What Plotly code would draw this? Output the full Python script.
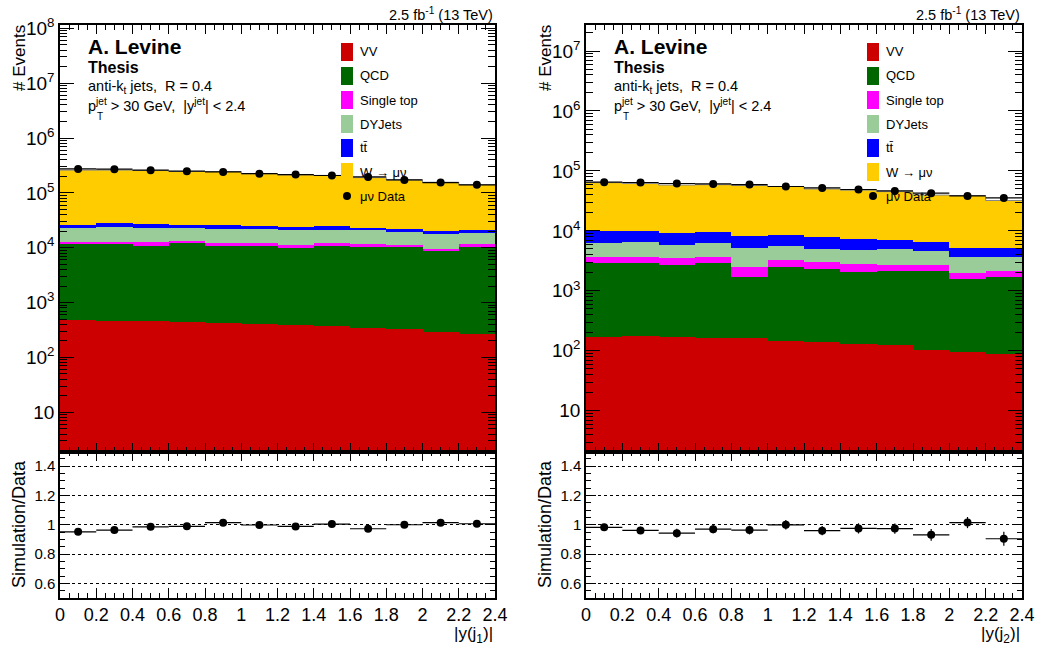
import plotly.graph_objects as go

W, H = 1042, 650
FONT = "Liberation Sans, Arial, Helvetica, sans-serif"

# ---------------- data ----------------
bin_edges = [0.0, 0.2, 0.4, 0.6, 0.8, 1.0, 1.2, 1.4, 1.6, 1.8, 2.0, 2.2, 2.4]
x_tick_vals = [0, 0.2, 0.4, 0.6, 0.8, 1, 1.2, 1.4, 1.6, 1.8, 2, 2.2, 2.4]
x_tick_text = ["0", "0.2", "0.4", "0.6", "0.8", "1", "1.2", "1.4", "1.6", "1.8", "2", "2.2", "2.4"]

names = ["VV", "QCD", "Single top", "DYJets", "t\u0074\u0304", "W \u2192 \u03bc\u03bd"]
data_name = "\u03bc\u03bd Data"
colors = ["#CC0000", "#006600", "#FF00FF", "#99CC99", "#0000FF", "#FFCC00"]

# leading jet |y(j1)|
vv_j1 = [478, 471, 465, 445, 427, 409, 392, 371, 351, 323, 293, 266]
qcd_j1 = [11000, 11200, 10500, 11600, 10200, 10200, 9300, 10500, 10000, 10000, 8400, 10100]
stop_j1 = [1500, 1300, 1500, 1200, 1400, 1400, 1300, 1300, 1400, 1000, 900, 1100]
dy_j1 = [10100, 11100, 10300, 9900, 10100, 9500, 9900, 9300, 9100, 8500, 8100, 7800]
tt_j1 = [3100, 3600, 3800, 3100, 3400, 2900, 2500, 2900, 2500, 1700, 2100, 1600]
wmunu_j1 = [233700, 232600, 228800, 219100, 218900, 199200, 189200, 183600, 166300, 150500, 136400, 120100]
data_j1 = [273000, 270000, 259000, 248000, 241000, 224000, 215000, 207000, 195000, 172000, 154000, 140000]
ratio_err_j1 = [0.008, 0.008, 0.008, 0.008, 0.008, 0.008, 0.008, 0.009, 0.009, 0.009, 0.01, 0.01]

# second jet |y(j2)|
vv_j2 = [167, 176, 167, 165, 163, 143, 139, 131, 124, 105, 96, 90]
qcd_j2 = [2720, 2750, 2510, 2720, 1570, 2340, 2190, 1970, 2030, 2020, 1460, 1600]
stop_j2 = [840, 800, 820, 800, 780, 760, 640, 650, 530, 550, 460, 440]
dy_j2 = [2500, 2900, 2340, 2620, 2630, 2310, 2110, 2010, 2270, 1960, 1710, 1560]
tt_j2 = [3800, 3400, 3300, 3200, 3000, 2900, 2700, 2500, 2000, 1800, 1500, 1500]
wmunu_j2 = [53730, 51600, 49030, 49380, 49020, 46530, 42220, 40520, 38250, 33140, 33640, 26920]
data_j2 = [64900, 64100, 61700, 60700, 59300, 55000, 52100, 49000, 46400, 42500, 38300, 35500]
ratio_err_j2 = [0.025, 0.025, 0.03, 0.028, 0.03, 0.032, 0.032, 0.035, 0.035, 0.04, 0.038, 0.048]

log_labels_j1 = ["10", "10<sup>2</sup>", "10<sup>3</sup>", "10<sup>4</sup>", "10<sup>5</sup>",
                 "10<sup>6</sup>", "10<sup>7</sup>", "10<sup>8</sup>"]
log_labels_j2 = log_labels_j1[:7]
ratio_tick_vals = [0.6, 0.8, 1.0, 1.2, 1.4]
ratio_tick_text = ["0.6", "0.8", "1", "1.2", "1.4"]

x_titles = ["|y(j<sub>1</sub>)|", "|y(j<sub>2</sub>)|"]
lumi_text = "2.5 fb<sup>-1</sup> (13 TeV)"

# ---------------- helpers ----------------
centers = [(bin_edges[i] + bin_edges[i + 1]) / 2 for i in range(len(bin_edges) - 1)]
half_w = [(bin_edges[i + 1] - bin_edges[i]) / 2 for i in range(len(bin_edges) - 1)]
widths = [2 * h for h in half_w]


def px(x):
    return x / W


def py(y):
    return 1 - y / H


fig = go.Figure()

panels = [
    dict(stack=[vv_j1, qcd_j1, stop_j1, dy_j1, tt_j1, wmunu_j1], data=data_j1, err=ratio_err_j1,
         xm="x", ym="y", xr="x2", yr="y2", labels=log_labels_j1, ndec=8),
    dict(stack=[vv_j2, qcd_j2, stop_j2, dy_j2, tt_j2, wmunu_j2], data=data_j2, err=ratio_err_j2,
         xm="x3", ym="y3", xr="x4", yr="y4", labels=log_labels_j2, ndec=7),
]

for p in panels:
    for comp, nm, col in zip(p["stack"], names, colors):
        fig.add_trace(go.Bar(x=centers, y=comp, width=widths, name=nm,
                             marker=dict(color=col, line=dict(width=0)),
                             xaxis=p["xm"], yaxis=p["ym"], showlegend=False))
    total = [sum(v) for v in zip(*p["stack"])]
    # thin outline on top of the simulation stack
    fig.add_trace(go.Scatter(x=bin_edges, y=total + [total[-1]], mode="lines", line_shape="hv",
                             line=dict(color="#888888", width=1), name="Simulation",
                             xaxis=p["xm"], yaxis=p["ym"], showlegend=False, hoverinfo="skip"))
    fig.add_trace(go.Scatter(x=centers, y=p["data"], mode="markers", name=data_name,
                             marker=dict(color="black", size=8),
                             error_x=dict(type="data", array=half_w, width=0, thickness=1.2, color="black"),
                             xaxis=p["xm"], yaxis=p["ym"], showlegend=False))
    ratio = [t / d for t, d in zip(total, p["data"])]
    fig.add_trace(go.Scatter(x=centers, y=ratio, mode="markers", name="Simulation/Data",
                             marker=dict(color="black", size=8),
                             error_x=dict(type="data", array=half_w, width=0, thickness=1.2, color="black"),
                             error_y=dict(type="data", array=p["err"], width=0, thickness=1.2, color="black"),
                             xaxis=p["xr"], yaxis=p["yr"], showlegend=False))

# ---------------- axes ----------------
main_bottom, main_top = 451.5, 25
rat_bottom = 598
doms_x = [[px(60), px(495)], [px(586), px(1022)]]
main_dom_y = [py(main_bottom), py(main_top)]
rat_dom_y = [py(rat_bottom), py(main_bottom)]
y_ranges = [[0.285, 8.06], [0.32, 7.434]]

common = dict(showline=True, linecolor="black", linewidth=1.5, mirror="allticks", automargin=False,
              ticks="inside", tickcolor="black", tickwidth=1, zeroline=False, showgrid=False)

minor_log = []
for d in range(0, 9):
    for m in range(2, 10):
        minor_log.append(m * 10 ** d)

layout_axes = {}
axis_ids = [("xaxis", "yaxis", "xaxis2", "yaxis2"), ("xaxis3", "yaxis3", "xaxis4", "yaxis4")]
for i, p in enumerate(panels):
    xm, ym, xr, yr = axis_ids[i]
    major_log = [10 ** k for k in range(1, p["ndec"] + 1)]
    layout_axes[xm] = dict(common, domain=doms_x[i], anchor=p["ym"],
                           range=[0, 2.4], tickmode="array", tickvals=x_tick_vals, ticklen=9,
                           showticklabels=False,
                           minor=dict(ticks="inside", dtick=0.05, ticklen=5, tickcolor="black"))
    layout_axes[ym] = dict(common, domain=main_dom_y, anchor=p["xm"], type="log", range=y_ranges[i],
                           tickmode="array", tickvals=major_log, ticktext=p["labels"], ticklen=14,
                           tickfont=dict(family=FONT, size=19, color="black"),
                           minor=dict(ticks="inside", tickmode="array", tickvals=minor_log,
                                      ticklen=7, tickcolor="black"))
    layout_axes[xr] = dict(common, domain=doms_x[i], anchor=p["yr"], range=[0, 2.4],
                           tickmode="array", tickvals=x_tick_vals, ticktext=x_tick_text, ticklen=10,
                           tickfont=dict(family=FONT, size=18, color="black"),
                           minor=dict(ticks="inside", dtick=0.05, ticklen=5, tickcolor="black"))
    layout_axes[yr] = dict(common, domain=rat_dom_y, anchor=p["xr"], range=[0.5, 1.5],
                           tickmode="array", tickvals=ratio_tick_vals, ticktext=ratio_tick_text,
                           ticklen=10, showgrid=True, gridcolor="black", griddash="dot", gridwidth=1,
                           tickfont=dict(family=FONT, size=15, color="black"),
                           minor=dict(ticks="inside", dtick=0.05, ticklen=5, tickcolor="black"))

# ---------------- annotations & legend ----------------
ann = []
shapes = []


def text(x, y, s, size, xanchor="left", yanchor="middle", bold=False, angle=0):
    if bold:
        s = "<b>" + s + "</b>"
    ann.append(dict(x=px(x), y=py(y), xref="paper", yref="paper", text=s, showarrow=False,
                    xanchor=xanchor, yanchor=yanchor, textangle=angle,
                    font=dict(family=FONT, size=size, color="black")))


frame_left = [60, 586]
frame_right = [495, 1022]
leg_box_x = [341, 867]
leg_row_y = [52, 76, 100, 124, 148, 172]
data_row_y = 196

for i in range(2):
    L = frame_left[i]
    R = frame_right[i]
    text(R, 14, lumi_text, 14.5, xanchor="right")
    text(L + 26, 47, "A. Levine", 21, bold=True)
    text(L + 26, 67, "Thesis", 16, bold=True)
    text(L + 26, 87, "anti-k<sub>t</sub> jets,  R = 0.4", 14.5)
    text(L + 26, 105, "p<sup>jet</sup> > 30 GeV,  |y<sup>jet</sup>| < 2.4", 14.5)
    text(L + 34.5, 117, "T", 10)
    text(L - 40, 23, "# Events", 17, xanchor="center", yanchor="top", angle=-90)
    text(L - 41, 524, "Simulation/Data", 18, xanchor="center", angle=-90)
    text(R, 635, x_titles[i], 17, xanchor="right")
    bx = leg_box_x[i]
    for nm, col, yy in zip(names, colors, leg_row_y):
        shapes.append(dict(type="rect", xref="paper", yref="paper",
                           x0=px(bx), x1=px(bx + 12), y0=py(yy + 9), y1=py(yy - 9),
                           fillcolor=col, line=dict(width=0)))
        text(bx + 17, yy, nm, 13)
    shapes.append(dict(type="circle", xref="paper", yref="paper",
                       x0=px(bx + 2), x1=px(bx + 10), y0=py(data_row_y + 4), y1=py(data_row_y - 4),
                       fillcolor="black", line=dict(width=0)))
    text(bx + 17, data_row_y, data_name, 13)

fig.update_layout(width=W, height=H, margin=dict(l=0, r=0, t=0, b=0, autoexpand=False),
                  paper_bgcolor="white", plot_bgcolor="white",
                  barmode="stack", bargap=0, showlegend=False,
                  annotations=ann, shapes=shapes,
                  font=dict(family=FONT, color="black"), **layout_axes)

fig.write_html("out.html", config={"displayModeBar": False},
               post_script="document.body.style.margin='0px';")
